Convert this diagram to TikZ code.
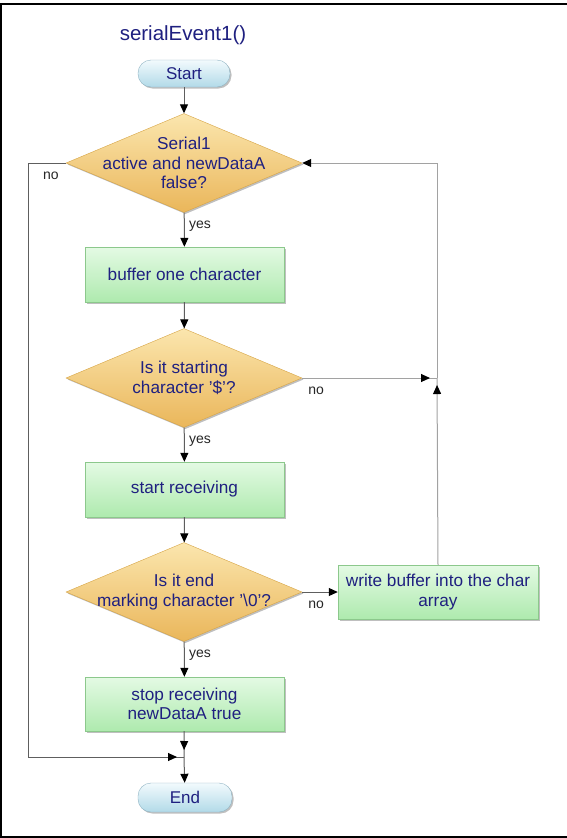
\documentclass[tikz,border=0pt]{standalone}
\usepackage{fontspec}
\setmainfont{Liberation Sans}
\usetikzlibrary{shapes.geometric,arrows.meta,calc,shadows,decorations.markings}

\definecolor{schrift}{HTML}{1F2080}
\definecolor{linie}{HTML}{5E5E5E}
\definecolor{rueck}{HTML}{A2A2A2}

\tikzset{
  schatten/.style={drop shadow={shadow xshift=1.5pt,shadow yshift=-1.5pt,opacity=.25,fill=black}},
  term/.style={rectangle,rounded corners=13pt,minimum width=92pt,minimum height=27pt,
    draw=HTMLbluegray,top color=HTMLtermtop,bottom color=HTMLtermbot,schatten,
    text=schrift,font=\fontsize{17}{20}\selectfont},
  aktion/.style={rectangle,minimum width=199pt,minimum height=55pt,align=center,
    draw=HTMLboxline,top color=HTMLboxtop,bottom color=HTMLboxbot,schatten,
    text=schrift,font=\fontsize{17.2}{19.5}\selectfont},
  frage/.style={diamond,inner sep=0pt,minimum width=236pt,minimum height=99pt,
    draw=HTMLcondline,top color=HTMLcondtop,bottom color=HTMLcondbot,schatten},
  fragetext/.style={align=center,text=schrift,font=\fontsize{17.2}{19.5}\selectfont},
  lbl/.style={text=black!85,font=\fontsize{14}{16}\selectfont,inner sep=0pt},
  pfeil/.style={draw=linie,line width=1pt,-{Triangle[black,length=9pt,width=8pt]}},
  zurjunk/.style={draw=#1,line width=1pt,postaction={decorate,decoration={markings,
    mark=at position -7pt with {\arrow{Triangle[black,length=9pt,width=8pt]}}}}}
}
\definecolor{HTMLbluegray}{HTML}{8EB2C2}
\definecolor{HTMLtermtop}{HTML}{F2FAFD}
\definecolor{HTMLtermbot}{HTML}{B2DAE8}
\definecolor{HTMLboxline}{HTML}{8CC88C}
\definecolor{HTMLboxtop}{HTML}{E4FAE4}
\definecolor{HTMLboxbot}{HTML}{AEEAAE}
\definecolor{HTMLcondline}{HTML}{D6A445}
\definecolor{HTMLcondtop}{HTML}{FBE6AE}
\definecolor{HTMLcondbot}{HTML}{EAB65A}

\begin{document}
\begin{tikzpicture}[x=1pt,y=-1pt]
  %Rahmen
  \clip (0,0) rectangle (567,838);
  \draw[line width=2.5pt] (1,4) rectangle (572,837);

  %Titel
  \node[text=schrift,font=\fontsize{20.5}{24}\selectfont] (titel) at (183,35) {serialEvent1()};

  %Knoten
  \node[term] (start) at (184,73.5) {Start};
  \node[frage,label={[fragetext]center:Serial1\\active and newDataA\\false?}] (c1) at (184,163) {};
  \node[aktion] (b1) at (184.5,274.5) {buffer one character};
  \node[frage,label={[fragetext]center:Is it starting\\character '\$'?}] (c2) at (184,378) {};
  \node[aktion] (b2) at (184.5,489.5) {start receiving};
  \node[frage,label={[fragetext]center:Is it end\\marking character '\textbackslash 0'?}] (c3) at (184,592) {};
  \node[aktion,minimum width=200pt,minimum height=54pt] (w1) at (438,592) {write buffer into the char\\array};
  \node[aktion,minimum height=54pt] (b3) at (184.5,704) {stop receiving\\newDataA true};
  \node[term,minimum width=94pt,minimum height=29pt] (ende) at (185,797.5) {End};

  %Hilfspunkte
  \coordinate (j) at (184,757);
  \coordinate (r2) at (437,378);
  \coordinate (links) at (28,163);
  \coordinate (rechts) at (437,163);

  %Hauptstrang
  \foreach \a/\b in {start/c1,c1/b1,b1/c2,c2/b2,b2/c3,c3/b3}
    \draw[pfeil] (\a) -- (\b);
  \draw[zurjunk=linie] (b3) -- (j);
  \draw[pfeil] (j) -- (ende);

  %Nein-Zweige
  \draw[zurjunk=linie] (c1.west) -- (links) |- (j);
  \draw[pfeil] (c3.east) -- (w1.west);
  \draw[zurjunk=rueck] (c2.east) -- (r2);
  \draw[zurjunk=rueck] (w1.north) -- (r2);
  \draw[draw=rueck,line width=1pt,-{Triangle[black,length=9pt,width=8pt]}] (r2) -- (rechts) -- (c1.east);

  %Beschriftung
  \foreach \c in {c1,c2,c3}
    \node[lbl,anchor=west] (ja\c) at ($(\c.south)+(5,13)$) {yes};
  \node[lbl] (nein1) at ($(c1.west)+(-15,13)$) {no};
  \node[lbl] (nein2) at ($(c2.east)+(14,13)$) {no};
  \node[lbl] (nein3) at ($(c3.east)+(14,13)$) {no};
\end{tikzpicture}
\end{document}
